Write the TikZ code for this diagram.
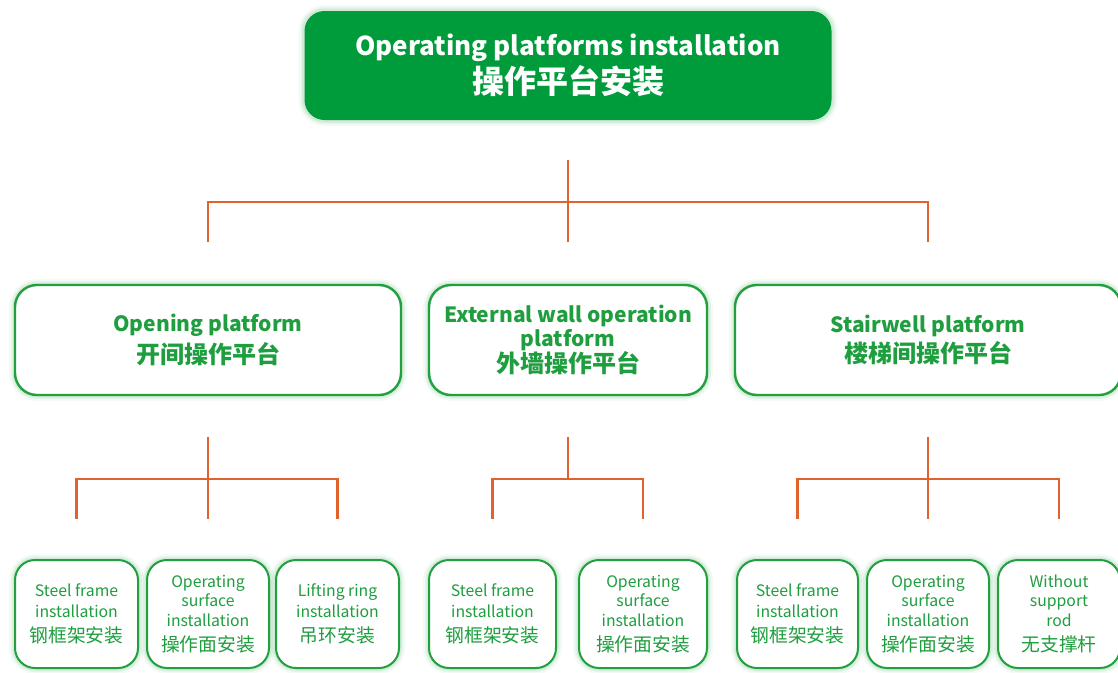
\documentclass[tikz,border=0pt]{standalone}
\usepackage{fontspec}
\setmainfont{Noto Sans CJK SC}
\usetikzlibrary{calc}
\definecolor{topgreen}{HTML}{009C3B}
\definecolor{txtgreen}{HTML}{1E9E3E}
\definecolor{linegreen}{HTML}{22A040}
\definecolor{conncol}{HTML}{E2622E}
\tikzset{
  glowbig/.style={
    preaction={draw=linegreen, line width=12pt, opacity=0.05},
    preaction={draw=linegreen, line width=8pt, opacity=0.07},
    preaction={draw=linegreen, line width=5pt, opacity=0.10}},
  topbox/.style={glowbig, rectangle, rounded corners=20pt, fill=topgreen, draw=none,
    text=white, align=center, inner sep=0pt, minimum height=109pt,
    font=\fontsize{26}{36}\selectfont\bfseries},
  midbox/.style={glowbig, rectangle, rounded corners=22pt, fill=white, draw=linegreen,
    line width=2.4pt, text=txtgreen, align=center, inner sep=0pt, minimum height=110pt,
    font=\fontsize{21}{24}\selectfont\bfseries},
  leafbox/.style={glowbig, rectangle, rounded corners=20pt, fill=white, draw=linegreen,
    line width=2pt, text=txtgreen, align=center, inner sep=0pt, minimum height=108pt,
    font=\fontsize{15.8}{19.5}\selectfont},
  conn/.style={draw=conncol, line width=2.4pt},
}
\newcommand{\zhT}[1]{{\fontsize{32}{36}\selectfont #1}}
\newcommand{\zhM}[1]{{\fontsize{24}{30}\selectfont #1}}
\newcommand{\zhL}[1]{{\fontsize{18.8}{24}\selectfont #1}}
\begin{document}
\begin{tikzpicture}[x=1pt,y=-1pt]
\useasboundingbox (0,0) rectangle (1118,672);
\clip (0,0) rectangle (1118,672);
% top
\node[topbox, minimum width=527pt] (top) at (568,65.5)
  {Operating platforms installation\\[2pt]\zhT{操作平台安装}};
% middle
\node[midbox, minimum width=386pt] (m1) at (208,340) {Opening platform\\[4pt]\zhM{开间操作平台}};
\node[midbox, minimum width=278pt] (m2) at (568,340) {External wall operation\\platform\\[0pt]\zhM{外墙操作平台}};
\node[midbox, minimum width=386pt] (m3) at (928,340) {Stairwell platform\\[4pt]\zhM{楼梯间操作平台}};
% leaves
\node[leafbox, minimum width=123pt] (b11) at (76.5,614) {Steel frame\\[1pt]installation\\[6pt]\zhL{钢框架安装}};
\node[leafbox, minimum width=122pt] (b12) at (208,614) {Operating\\surface\\installation\\[6pt]\zhL{操作面安装}};
\node[leafbox, minimum width=123pt] (b13) at (337.5,614) {Lifting ring\\[1pt]installation\\[6pt]\zhL{吊环安装}};
\node[leafbox, minimum width=127pt] (b21) at (492.5,614) {Steel frame\\[1pt]installation\\[6pt]\zhL{钢框架安装}};
\node[leafbox, minimum width=128pt] (b22) at (643,614) {Operating\\surface\\installation\\[6pt]\zhL{操作面安装}};
\node[leafbox, minimum width=121pt] (b31) at (797.5,614) {Steel frame\\[1pt]installation\\[6pt]\zhL{钢框架安装}};
\node[leafbox, minimum width=122pt] (b32) at (928,614) {Operating\\surface\\installation\\[6pt]\zhL{操作面安装}};
\node[leafbox, minimum width=122pt] (b33) at (1059,614) {Without\\support\\rod\\[6pt]\zhL{无支撑杆}};
% connectors level 1
\coordinate (j0) at ($(top.south)+(0,82)$);
\draw[conn] ($(top.south)+(0,40)$) -- (j0);
\draw[conn] ($(m1.north)+(0,-42)$) |- (j0) -| ($(m3.north)+(0,-42)$);
\draw[conn] (j0) -- ($(m2.north)+(0,-42)$);
% connectors level 2
\coordinate (j1) at ($(m1.south)+(0,83)$);
\draw[conn] ($(m1.south)+(0,41)$) -- (j1);
\draw[conn] ($(b11.north)+(0,-40)$) |- (j1) -| ($(b13.north)+(0,-40)$);
\draw[conn] (j1) -- ($(b12.north)+(0,-40)$);
\coordinate (j2) at ($(m2.south)+(0,83)$);
\draw[conn] ($(m2.south)+(0,41)$) -- (j2);
\draw[conn] ($(b21.north)+(0,-40)$) |- (j2) -| ($(b22.north)+(0,-40)$);
\coordinate (j3) at ($(m3.south)+(0,83)$);
\draw[conn] ($(m3.south)+(0,41)$) -- (j3);
\draw[conn] ($(b31.north)+(0,-40)$) |- (j3) -| ($(b33.north)+(0,-40)$);
\draw[conn] (j3) -- ($(b32.north)+(0,-40)$);
\end{tikzpicture}
\end{document}
